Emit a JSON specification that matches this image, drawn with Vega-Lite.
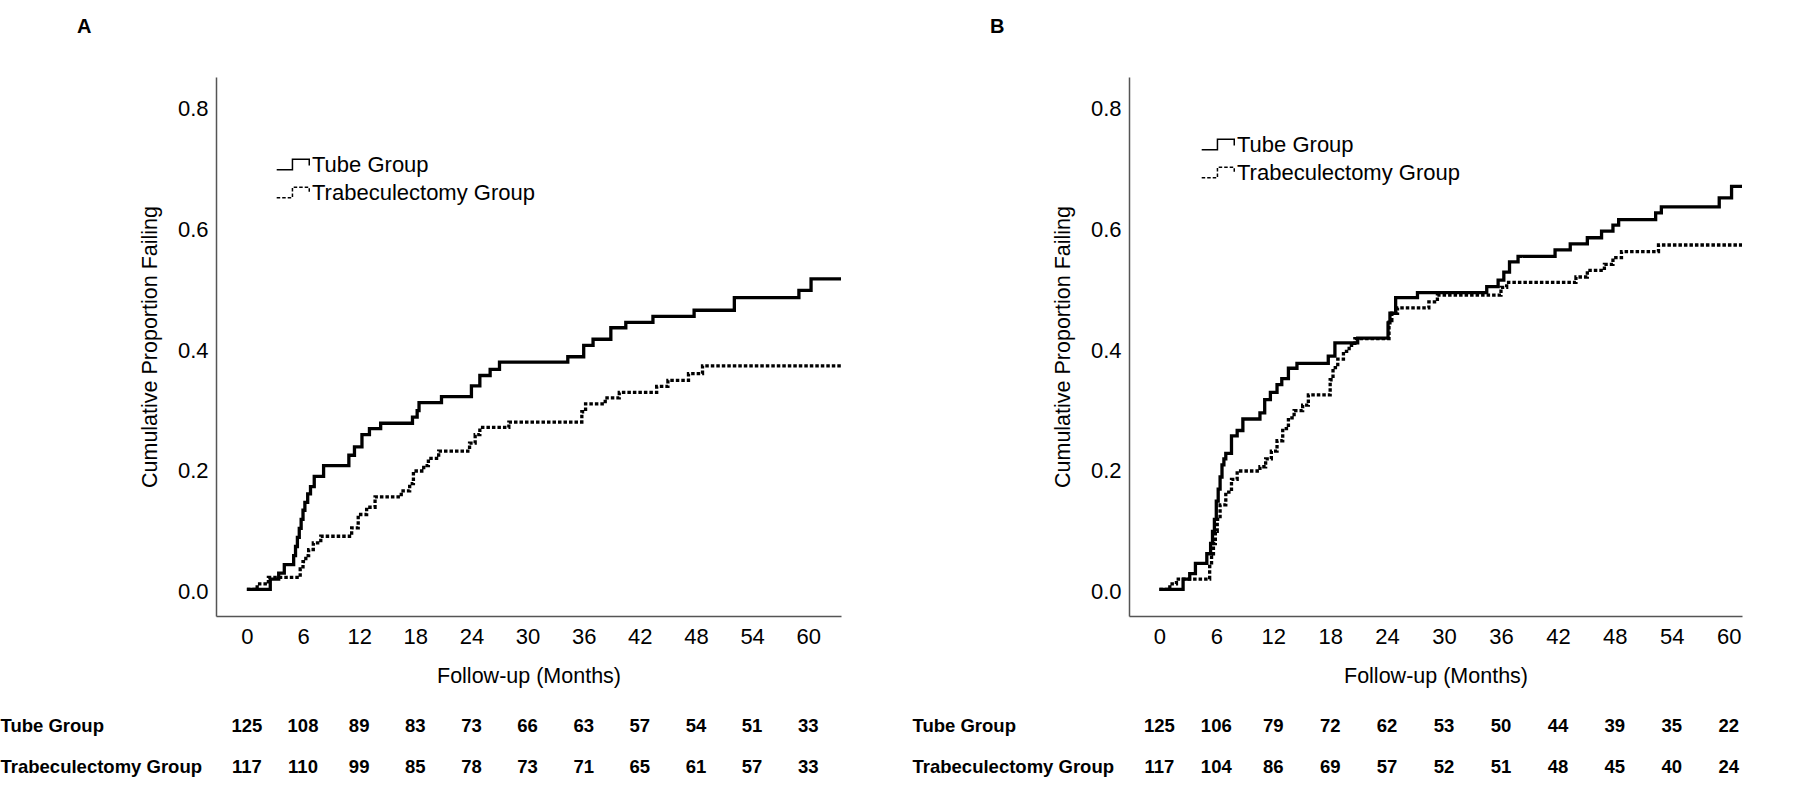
{
  "$schema": "https://vega.github.io/schema/vega-lite/v6.json",
  "padding": {"left": 0, "top": 17, "right": 5, "bottom": 5},
  "autosize": {"type": "pad"},
  "background": "white",
  "config": {
    "font": "Liberation Sans",
    "view": {"stroke": null},
    "axis": {"domainColor": "#555555", "domainWidth": 1.5, "ticks": false, "grid": false, "labelColor": "black", "titleColor": "black", "titleFontWeight": "normal"},
    "title": {"color": "black"}
  },
  "datasets": {
    "kmA": [
      {"group": "Tube Group", "month": 0, "p": 0.004},
      {"group": "Tube Group", "month": 2.5, "p": 0.021},
      {"group": "Tube Group", "month": 3.4, "p": 0.031},
      {"group": "Tube Group", "month": 4.0, "p": 0.045},
      {"group": "Tube Group", "month": 5.0, "p": 0.06},
      {"group": "Tube Group", "month": 5.2, "p": 0.075},
      {"group": "Tube Group", "month": 5.4, "p": 0.09},
      {"group": "Tube Group", "month": 5.6, "p": 0.105},
      {"group": "Tube Group", "month": 5.8, "p": 0.12},
      {"group": "Tube Group", "month": 6.0, "p": 0.135},
      {"group": "Tube Group", "month": 6.2, "p": 0.148},
      {"group": "Tube Group", "month": 6.5, "p": 0.162},
      {"group": "Tube Group", "month": 6.8, "p": 0.174},
      {"group": "Tube Group", "month": 7.2, "p": 0.191},
      {"group": "Tube Group", "month": 8.2, "p": 0.209},
      {"group": "Tube Group", "month": 10.9, "p": 0.226},
      {"group": "Tube Group", "month": 11.5, "p": 0.24},
      {"group": "Tube Group", "month": 12.3, "p": 0.26},
      {"group": "Tube Group", "month": 13.1, "p": 0.27},
      {"group": "Tube Group", "month": 14.3, "p": 0.279},
      {"group": "Tube Group", "month": 17.7, "p": 0.289},
      {"group": "Tube Group", "month": 18.2, "p": 0.3},
      {"group": "Tube Group", "month": 18.4, "p": 0.313},
      {"group": "Tube Group", "month": 20.8, "p": 0.323},
      {"group": "Tube Group", "month": 24.0, "p": 0.341},
      {"group": "Tube Group", "month": 24.9, "p": 0.358},
      {"group": "Tube Group", "month": 26.0, "p": 0.368},
      {"group": "Tube Group", "month": 27.0, "p": 0.38},
      {"group": "Tube Group", "month": 34.3, "p": 0.389},
      {"group": "Tube Group", "month": 36.0, "p": 0.408},
      {"group": "Tube Group", "month": 37.0, "p": 0.418},
      {"group": "Tube Group", "month": 38.9, "p": 0.437},
      {"group": "Tube Group", "month": 40.5, "p": 0.446},
      {"group": "Tube Group", "month": 43.4, "p": 0.456},
      {"group": "Tube Group", "month": 47.8, "p": 0.466},
      {"group": "Tube Group", "month": 52.1, "p": 0.487},
      {"group": "Tube Group", "month": 59.0, "p": 0.499},
      {"group": "Tube Group", "month": 60.3, "p": 0.518},
      {"group": "Tube Group", "month": 63.5, "p": 0.518},
      {"group": "Trabeculectomy Group", "month": 0, "p": 0.004},
      {"group": "Trabeculectomy Group", "month": 1.1, "p": 0.013},
      {"group": "Trabeculectomy Group", "month": 2.3, "p": 0.024},
      {"group": "Trabeculectomy Group", "month": 5.7, "p": 0.038},
      {"group": "Trabeculectomy Group", "month": 6.0, "p": 0.05},
      {"group": "Trabeculectomy Group", "month": 6.3, "p": 0.06},
      {"group": "Trabeculectomy Group", "month": 6.6, "p": 0.07},
      {"group": "Trabeculectomy Group", "month": 7.1, "p": 0.081},
      {"group": "Trabeculectomy Group", "month": 7.9, "p": 0.092},
      {"group": "Trabeculectomy Group", "month": 11.2, "p": 0.106},
      {"group": "Trabeculectomy Group", "month": 11.9, "p": 0.128},
      {"group": "Trabeculectomy Group", "month": 12.8, "p": 0.14},
      {"group": "Trabeculectomy Group", "month": 13.7, "p": 0.157},
      {"group": "Trabeculectomy Group", "month": 16.5, "p": 0.167},
      {"group": "Trabeculectomy Group", "month": 17.4, "p": 0.179},
      {"group": "Trabeculectomy Group", "month": 17.8, "p": 0.2},
      {"group": "Trabeculectomy Group", "month": 18.9, "p": 0.209},
      {"group": "Trabeculectomy Group", "month": 19.4, "p": 0.221},
      {"group": "Trabeculectomy Group", "month": 20.5, "p": 0.233},
      {"group": "Trabeculectomy Group", "month": 23.8, "p": 0.246},
      {"group": "Trabeculectomy Group", "month": 24.4, "p": 0.26},
      {"group": "Trabeculectomy Group", "month": 24.9, "p": 0.272},
      {"group": "Trabeculectomy Group", "month": 28.0, "p": 0.281},
      {"group": "Trabeculectomy Group", "month": 35.8, "p": 0.298},
      {"group": "Trabeculectomy Group", "month": 36.2, "p": 0.311},
      {"group": "Trabeculectomy Group", "month": 38.3, "p": 0.321},
      {"group": "Trabeculectomy Group", "month": 39.8, "p": 0.33},
      {"group": "Trabeculectomy Group", "month": 43.8, "p": 0.34},
      {"group": "Trabeculectomy Group", "month": 45.0, "p": 0.35},
      {"group": "Trabeculectomy Group", "month": 47.2, "p": 0.361},
      {"group": "Trabeculectomy Group", "month": 48.7, "p": 0.374},
      {"group": "Trabeculectomy Group", "month": 63.5, "p": 0.374}
    ],
    "kmB": [
      {"group": "Tube Group", "month": 0, "p": 0.004},
      {"group": "Tube Group", "month": 2.5, "p": 0.021},
      {"group": "Tube Group", "month": 3.2, "p": 0.03},
      {"group": "Tube Group", "month": 3.8, "p": 0.047},
      {"group": "Tube Group", "month": 5.0, "p": 0.063},
      {"group": "Tube Group", "month": 5.4, "p": 0.08},
      {"group": "Tube Group", "month": 5.6, "p": 0.1},
      {"group": "Tube Group", "month": 5.8, "p": 0.12},
      {"group": "Tube Group", "month": 6.0, "p": 0.15},
      {"group": "Tube Group", "month": 6.2, "p": 0.17},
      {"group": "Tube Group", "month": 6.4, "p": 0.19},
      {"group": "Tube Group", "month": 6.6, "p": 0.21},
      {"group": "Tube Group", "month": 6.8, "p": 0.22},
      {"group": "Tube Group", "month": 7.0, "p": 0.229},
      {"group": "Tube Group", "month": 7.6, "p": 0.258},
      {"group": "Tube Group", "month": 8.2, "p": 0.267},
      {"group": "Tube Group", "month": 8.8, "p": 0.286},
      {"group": "Tube Group", "month": 10.6, "p": 0.296},
      {"group": "Tube Group", "month": 11.1, "p": 0.318},
      {"group": "Tube Group", "month": 11.7, "p": 0.33},
      {"group": "Tube Group", "month": 12.4, "p": 0.343},
      {"group": "Tube Group", "month": 12.9, "p": 0.353},
      {"group": "Tube Group", "month": 13.6, "p": 0.37},
      {"group": "Tube Group", "month": 14.5, "p": 0.378},
      {"group": "Tube Group", "month": 17.8, "p": 0.39},
      {"group": "Tube Group", "month": 18.5, "p": 0.412},
      {"group": "Tube Group", "month": 20.9, "p": 0.42},
      {"group": "Tube Group", "month": 24.1, "p": 0.445},
      {"group": "Tube Group", "month": 24.3, "p": 0.461},
      {"group": "Tube Group", "month": 24.9, "p": 0.487},
      {"group": "Tube Group", "month": 27.2, "p": 0.495},
      {"group": "Tube Group", "month": 34.5, "p": 0.505},
      {"group": "Tube Group", "month": 35.7, "p": 0.516},
      {"group": "Tube Group", "month": 36.3, "p": 0.529},
      {"group": "Tube Group", "month": 36.9, "p": 0.546},
      {"group": "Tube Group", "month": 37.8, "p": 0.555},
      {"group": "Tube Group", "month": 41.7, "p": 0.566},
      {"group": "Tube Group", "month": 43.3, "p": 0.576},
      {"group": "Tube Group", "month": 45.1, "p": 0.586},
      {"group": "Tube Group", "month": 46.6, "p": 0.597},
      {"group": "Tube Group", "month": 47.8, "p": 0.607},
      {"group": "Tube Group", "month": 48.4, "p": 0.616},
      {"group": "Tube Group", "month": 52.3, "p": 0.627},
      {"group": "Tube Group", "month": 52.9, "p": 0.637},
      {"group": "Tube Group", "month": 59.0, "p": 0.652},
      {"group": "Tube Group", "month": 60.3, "p": 0.671},
      {"group": "Tube Group", "month": 61.4, "p": 0.671},
      {"group": "Trabeculectomy Group", "month": 0, "p": 0.004},
      {"group": "Trabeculectomy Group", "month": 1.1, "p": 0.013},
      {"group": "Trabeculectomy Group", "month": 1.8, "p": 0.021},
      {"group": "Trabeculectomy Group", "month": 5.3, "p": 0.042},
      {"group": "Trabeculectomy Group", "month": 5.5, "p": 0.06},
      {"group": "Trabeculectomy Group", "month": 5.7, "p": 0.08},
      {"group": "Trabeculectomy Group", "month": 5.9, "p": 0.1},
      {"group": "Trabeculectomy Group", "month": 6.1, "p": 0.12},
      {"group": "Trabeculectomy Group", "month": 6.4, "p": 0.144},
      {"group": "Trabeculectomy Group", "month": 7.0, "p": 0.165},
      {"group": "Trabeculectomy Group", "month": 7.6, "p": 0.186},
      {"group": "Trabeculectomy Group", "month": 8.2, "p": 0.2},
      {"group": "Trabeculectomy Group", "month": 10.6, "p": 0.207},
      {"group": "Trabeculectomy Group", "month": 11.2, "p": 0.22},
      {"group": "Trabeculectomy Group", "month": 11.8, "p": 0.233},
      {"group": "Trabeculectomy Group", "month": 12.4, "p": 0.25},
      {"group": "Trabeculectomy Group", "month": 13.0, "p": 0.27},
      {"group": "Trabeculectomy Group", "month": 13.6, "p": 0.288},
      {"group": "Trabeculectomy Group", "month": 14.2, "p": 0.3},
      {"group": "Trabeculectomy Group", "month": 15.1, "p": 0.309},
      {"group": "Trabeculectomy Group", "month": 15.7, "p": 0.326},
      {"group": "Trabeculectomy Group", "month": 18.0, "p": 0.351},
      {"group": "Trabeculectomy Group", "month": 18.3, "p": 0.371},
      {"group": "Trabeculectomy Group", "month": 18.8, "p": 0.385},
      {"group": "Trabeculectomy Group", "month": 19.4, "p": 0.398},
      {"group": "Trabeculectomy Group", "month": 20.0, "p": 0.408},
      {"group": "Trabeculectomy Group", "month": 20.6, "p": 0.419},
      {"group": "Trabeculectomy Group", "month": 24.2, "p": 0.449},
      {"group": "Trabeculectomy Group", "month": 24.5, "p": 0.461},
      {"group": "Trabeculectomy Group", "month": 25.1, "p": 0.47},
      {"group": "Trabeculectomy Group", "month": 28.4, "p": 0.48},
      {"group": "Trabeculectomy Group", "month": 29.3, "p": 0.491},
      {"group": "Trabeculectomy Group", "month": 36.0, "p": 0.504},
      {"group": "Trabeculectomy Group", "month": 36.6, "p": 0.512},
      {"group": "Trabeculectomy Group", "month": 43.9, "p": 0.521},
      {"group": "Trabeculectomy Group", "month": 45.1, "p": 0.532},
      {"group": "Trabeculectomy Group", "month": 46.9, "p": 0.542},
      {"group": "Trabeculectomy Group", "month": 47.8, "p": 0.553},
      {"group": "Trabeculectomy Group", "month": 48.7, "p": 0.563},
      {"group": "Trabeculectomy Group", "month": 52.6, "p": 0.574},
      {"group": "Trabeculectomy Group", "month": 61.4, "p": 0.574}
    ],
    "riskA": [
      {"row": "Tube Group", "month": 0, "n": 125},
      {"row": "Tube Group", "month": 6, "n": 108},
      {"row": "Tube Group", "month": 12, "n": 89},
      {"row": "Tube Group", "month": 18, "n": 83},
      {"row": "Tube Group", "month": 24, "n": 73},
      {"row": "Tube Group", "month": 30, "n": 66},
      {"row": "Tube Group", "month": 36, "n": 63},
      {"row": "Tube Group", "month": 42, "n": 57},
      {"row": "Tube Group", "month": 48, "n": 54},
      {"row": "Tube Group", "month": 54, "n": 51},
      {"row": "Tube Group", "month": 60, "n": 33},
      {"row": "Trabeculectomy Group", "month": 0, "n": 117},
      {"row": "Trabeculectomy Group", "month": 6, "n": 110},
      {"row": "Trabeculectomy Group", "month": 12, "n": 99},
      {"row": "Trabeculectomy Group", "month": 18, "n": 85},
      {"row": "Trabeculectomy Group", "month": 24, "n": 78},
      {"row": "Trabeculectomy Group", "month": 30, "n": 73},
      {"row": "Trabeculectomy Group", "month": 36, "n": 71},
      {"row": "Trabeculectomy Group", "month": 42, "n": 65},
      {"row": "Trabeculectomy Group", "month": 48, "n": 61},
      {"row": "Trabeculectomy Group", "month": 54, "n": 57},
      {"row": "Trabeculectomy Group", "month": 60, "n": 33}
    ],
    "riskB": [
      {"row": "Tube Group", "month": 0, "n": 125},
      {"row": "Tube Group", "month": 6, "n": 106},
      {"row": "Tube Group", "month": 12, "n": 79},
      {"row": "Tube Group", "month": 18, "n": 72},
      {"row": "Tube Group", "month": 24, "n": 62},
      {"row": "Tube Group", "month": 30, "n": 53},
      {"row": "Tube Group", "month": 36, "n": 50},
      {"row": "Tube Group", "month": 42, "n": 44},
      {"row": "Tube Group", "month": 48, "n": 39},
      {"row": "Tube Group", "month": 54, "n": 35},
      {"row": "Tube Group", "month": 60, "n": 22},
      {"row": "Trabeculectomy Group", "month": 0, "n": 117},
      {"row": "Trabeculectomy Group", "month": 6, "n": 104},
      {"row": "Trabeculectomy Group", "month": 12, "n": 86},
      {"row": "Trabeculectomy Group", "month": 18, "n": 69},
      {"row": "Trabeculectomy Group", "month": 24, "n": 57},
      {"row": "Trabeculectomy Group", "month": 30, "n": 52},
      {"row": "Trabeculectomy Group", "month": 36, "n": 51},
      {"row": "Trabeculectomy Group", "month": 42, "n": 48},
      {"row": "Trabeculectomy Group", "month": 48, "n": 45},
      {"row": "Trabeculectomy Group", "month": 54, "n": 40},
      {"row": "Trabeculectomy Group", "month": 60, "n": 24}
    ]
  },
  "spacing": 64,
  "resolve": {"scale": {"strokeDash": "independent"}, "legend": {"strokeDash": "independent"}},
  "hconcat": [
    {
      "spacing": 18,
      "vconcat": [
        {
          "title": {"text": "A", "anchor": "start", "frame": "group", "dx": -139, "offset": 40, "fontSize": 20, "fontWeight": "bold"},
          "width": 625,
          "height": 539,
          "data": {"name": "kmA"},
          "mark": {"type": "line", "interpolate": "step-after", "strokeWidth": 3.3, "color": "black"},
          "encoding": {
            "x": {"field": "month", "type": "quantitative", "scale": {"domain": [-3.3, 63.5], "nice": false, "zero": false},
                  "axis": {"values": [0, 6, 12, 18, 24, 30, 36, 42, 48, 54, 60], "title": "Follow-up (Months)", "labelFontSize": 22, "titleFontSize": 21.5, "labelPadding": 10, "titlePadding": 18}},
            "y": {"field": "p", "type": "quantitative", "scale": {"domain": [-0.04, 0.852], "nice": false, "zero": false},
                  "axis": {"values": [0, 0.2, 0.4, 0.6, 0.8], "format": ".1f", "title": "Cumulative Proportion Failing", "labelFontSize": 22, "titleFontSize": 21.5, "labelPadding": 8, "titlePadding": 16}},
            "strokeDash": {"field": "group", "type": "nominal",
                  "scale": {"domain": ["Tube Group", "Trabeculectomy Group"], "range": [[1, 0], [3.5, 2]]},
                  "legend": {"title": null, "orient": "none", "legendX": 66, "legendY": 76, "symbolType": "M-1.6,0.5H-0.1V-0.5H1.5V0.1", "symbolSize": 441, "symbolStrokeWidth": 1.5, "symbolStrokeColor": "black", "symbolFillColor": "transparent", "labelFontSize": 22, "labelColor": "black", "labelOffset": 7, "rowPadding": 5, "labelLimit": 0}}
          }
        },
        {
          "width": 625,
          "height": 82,
          "data": {"name": "riskA"},
          "mark": {"type": "text", "fontSize": 18.5, "fontWeight": "bold", "color": "black"},
          "encoding": {
            "x": {"field": "month", "type": "quantitative", "scale": {"domain": [-3.3, 63.5], "nice": false, "zero": false}, "axis": null},
            "y": {"field": "row", "type": "nominal", "scale": {"domain": ["Tube Group", "Trabeculectomy Group"], "paddingInner": 0, "paddingOuter": 0},
                  "axis": {"title": null, "domain": false, "ticks": false, "labelAlign": "left", "labelPadding": 216, "labelFontSize": 18.5, "labelFontWeight": "bold", "labelLimit": 0}},
            "text": {"field": "n", "type": "quantitative"}
          }
        }
      ]
    },
    {
      "spacing": 18,
      "vconcat": [
        {
          "title": {"text": "B", "anchor": "start", "frame": "group", "dx": -139, "offset": 40, "fontSize": 20, "fontWeight": "bold"},
          "width": 613,
          "height": 539,
          "data": {"name": "kmB"},
          "mark": {"type": "line", "interpolate": "step-after", "strokeWidth": 3.3, "color": "black"},
          "encoding": {
            "x": {"field": "month", "type": "quantitative", "scale": {"domain": [-3.2, 61.4], "nice": false, "zero": false},
                  "axis": {"values": [0, 6, 12, 18, 24, 30, 36, 42, 48, 54, 60], "title": "Follow-up (Months)", "labelFontSize": 22, "titleFontSize": 21.5, "labelPadding": 10, "titlePadding": 18}},
            "y": {"field": "p", "type": "quantitative", "scale": {"domain": [-0.04, 0.852], "nice": false, "zero": false},
                  "axis": {"values": [0, 0.2, 0.4, 0.6, 0.8], "format": ".1f", "title": "Cumulative Proportion Failing", "labelFontSize": 22, "titleFontSize": 21.5, "labelPadding": 8, "titlePadding": 16}},
            "strokeDash": {"field": "group", "type": "nominal",
                  "scale": {"domain": ["Tube Group", "Trabeculectomy Group"], "range": [[1, 0], [3.5, 2]]},
                  "legend": {"title": null, "orient": "none", "legendX": 78, "legendY": 56, "symbolType": "M-1.6,0.5H-0.1V-0.5H1.5V0.1", "symbolSize": 441, "symbolStrokeWidth": 1.5, "symbolStrokeColor": "black", "symbolFillColor": "transparent", "labelFontSize": 22, "labelColor": "black", "labelOffset": 7, "rowPadding": 5, "labelLimit": 0}}
          }
        },
        {
          "width": 613,
          "height": 82,
          "data": {"name": "riskB"},
          "mark": {"type": "text", "fontSize": 18.5, "fontWeight": "bold", "color": "black"},
          "encoding": {
            "x": {"field": "month", "type": "quantitative", "scale": {"domain": [-3.2, 61.4], "nice": false, "zero": false}, "axis": null},
            "y": {"field": "row", "type": "nominal", "scale": {"domain": ["Tube Group", "Trabeculectomy Group"], "paddingInner": 0, "paddingOuter": 0},
                  "axis": {"title": null, "domain": false, "ticks": false, "labelAlign": "left", "labelPadding": 217, "labelFontSize": 18.5, "labelFontWeight": "bold", "labelLimit": 0}},
            "text": {"field": "n", "type": "quantitative"}
          }
        }
      ]
    }
  ]
}
